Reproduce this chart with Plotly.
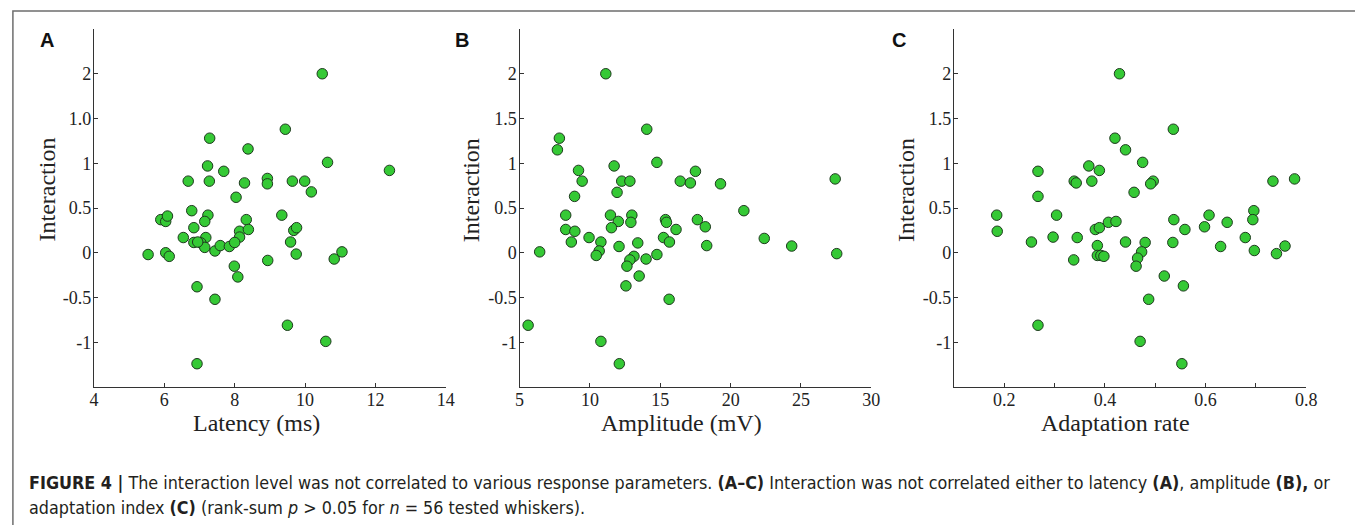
import plotly.graph_objects as go

W, H = 1355, 525

# ---------------- data ----------------
latency_ms = [10.49, 9.44, 7.29, 8.38, 10.64, 12.4, 7.23, 7.69, 6.68, 7.28, 8.28, 8.93, 8.93, 9.64,
              9.99, 10.18, 8.04, 6.78, 5.9, 6.04, 6.09, 7.24, 7.15, 8.33, 9.34, 6.84, 8.14, 8.39,
              8.14, 9.68, 9.76, 6.54, 6.84, 7.18, 7.04, 7.15, 7.44, 7.59, 7.85, 8.0, 9.59, 5.54,
              6.04, 6.14, 9.75, 8.94, 10.83, 11.05, 7.99, 8.09, 6.93, 7.44, 9.5, 10.59, 6.93, 6.95]
interaction_A = [2.0, 1.38, 1.28, 1.16, 1.01, 0.92, 0.97, 0.91, 0.80, 0.80, 0.78, 0.83, 0.77, 0.80,
                 0.80, 0.68, 0.62, 0.47, 0.37, 0.35, 0.41, 0.42, 0.35, 0.37, 0.42, 0.28, 0.24, 0.26,
                 0.175, 0.25, 0.28, 0.17, 0.115, 0.17, 0.11, 0.06, 0.02, 0.08, 0.07, 0.115, 0.12, -0.02,
                 0.0, -0.04, -0.015, -0.086, -0.07, 0.01, -0.15, -0.27, -0.38, -0.52, -0.81, -0.99, -1.24, 0.12]

amplitude_mV = [11.13, 14.04, 7.83, 7.69, 14.76, 11.72, 9.19, 17.5, 27.43, 9.45, 12.26, 12.84, 16.42,
                17.14, 19.28, 11.93, 8.91, 20.94, 8.28, 11.46, 12.98, 12.02, 12.91, 15.37, 15.44, 17.64,
                18.2, 8.28, 8.93, 11.53, 16.12, 9.94, 15.23, 22.39, 8.68, 10.78, 13.4, 15.65, 12.07,
                18.3, 24.34, 6.43, 10.66, 10.45, 27.54, 14.76, 13.13, 12.84, 13.99, 12.63, 13.5, 12.56,
                15.63, 5.61, 10.78, 12.09]
interaction_B = [2.0, 1.38, 1.28, 1.15, 1.01, 0.97, 0.92, 0.91, 0.825, 0.80, 0.80, 0.80, 0.80, 0.78,
                 0.77, 0.675, 0.63, 0.47, 0.42, 0.42, 0.42, 0.35, 0.34, 0.37, 0.34, 0.37, 0.29, 0.26,
                 0.24, 0.28, 0.26, 0.17, 0.17, 0.16, 0.12, 0.12, 0.11, 0.12, 0.07, 0.08, 0.075, 0.01,
                 0.02, -0.03, -0.01, -0.02, -0.04, -0.08, -0.07, -0.15, -0.26, -0.37, -0.52, -0.81,
                 -0.99, -1.24]

adaptation_rate = [0.429, 0.536, 0.42, 0.441, 0.475, 0.368, 0.389, 0.267, 0.777, 0.339, 0.343, 0.374,
                   0.496, 0.491, 0.734, 0.458, 0.267, 0.185, 0.186, 0.304, 0.607, 0.696, 0.694, 0.537,
                   0.407, 0.422, 0.643, 0.381, 0.389, 0.559, 0.598, 0.297, 0.345, 0.679, 0.254, 0.441,
                   0.48, 0.535, 0.385, 0.63, 0.758, 0.697, 0.473, 0.385, 0.392, 0.398, 0.741, 0.465,
                   0.338, 0.462, 0.518, 0.556, 0.487, 0.267, 0.47, 0.553]
interaction_C = [2.0, 1.38, 1.28, 1.15, 1.01, 0.97, 0.92, 0.91, 0.825, 0.80, 0.78, 0.80, 0.80, 0.77,
                 0.80, 0.675, 0.63, 0.42, 0.24, 0.42, 0.42, 0.47, 0.37, 0.37, 0.34, 0.35, 0.34, 0.26,
                 0.28, 0.26, 0.29, 0.175, 0.17, 0.17, 0.12, 0.12, 0.115, 0.115, 0.08, 0.07, 0.075,
                 0.025, 0.01, -0.03, -0.03, -0.04, -0.01, -0.06, -0.08, -0.15, -0.26, -0.37, -0.52,
                 -0.81, -0.99, -1.24]

y_tickvals = [-1, -0.5, 0, 0.5, 1, 1.5, 2]
y_ticktext_A = ["-1", "-0.5", "0", "0.5", "1", "1.0", "2"]
y_ticktext_BC = ["-1", "-0.5", "0", "0.5", "1", "1.5", "2"]

x_tickvals_A = [4, 6, 8, 10, 12, 14]
x_tickvals_B = [5, 10, 15, 20, 25, 30]
x_tickvals_C = [0.1, 0.2, 0.3, 0.4, 0.5, 0.6, 0.7, 0.8]
x_ticktext_C = ["", "0.2", "", "0.4", "", "0.6", "", "0.8"]

panel_letters = ["A", "B", "C"]
x_titles = ["Latency (ms)", "Amplitude (mV)", "Adaptation rate"]
y_title = "Interaction"

caption_line1 = ("<b>FIGURE 4 |</b> The interaction level was not correlated to various response parameters. "
                 "<b>(A–C)</b> Interaction was not correlated either to latency <b>(A)</b>, amplitude <b>(B),</b> or")
caption_line2 = ("adaptation index <b>(C)</b> (rank-sum <i>p</i> &gt; 0.05 for <i>n</i> = 56 tested whiskers).")

# ---------------- layout geometry (pixels) ----------------
panels_px = [(90, 446), (520.7, 876.7), (960.3, 1316.7)]
y_top_px, y_bot_px = 29, 387

def fx(px):
    return px / W

def fy(py):
    return 1 - py / H

SERIF = "Liberation Serif"
SANS = "Liberation Sans"
CAPTION_FONT = "DejaVu Sans Condensed"
MARKER_COLOR = "#35c935"
MARKER_LINE = "#1e3a1e"
AXIS_COLOR = "#333333"

fig = go.Figure()

xs = [latency_ms, amplitude_mV, adaptation_rate]
ys = [interaction_A, interaction_B, interaction_C]
xranges = [[4, 14], [5, 30], [0.1, 0.8]]
xtick_vals = [x_tickvals_A, x_tickvals_B, x_tickvals_C]
xtick_text = [[str(v) for v in x_tickvals_A], [str(v) for v in x_tickvals_B], x_ticktext_C]
ytick_text = [y_ticktext_A, y_ticktext_BC, y_ticktext_BC]

layout_axes = {}
for i in range(3):
    n = "" if i == 0 else str(i + 1)
    fig.add_trace(go.Scatter(
        x=xs[i], y=ys[i], mode="markers", xaxis="x" + n, yaxis="y" + n,
        marker=dict(size=10.5, color=MARKER_COLOR, line=dict(color=MARKER_LINE, width=1)),
        showlegend=False, hoverinfo="x+y", cliponaxis=False,
    ))
    x0, x1 = panels_px[i]
    layout_axes["xaxis" + n] = dict(
        domain=[fx(x0), fx(x1)], range=xranges[i], anchor="y" + n,
        showline=True, linecolor=AXIS_COLOR, linewidth=1.3, mirror=False,
        showgrid=False, zeroline=False,
        ticks="inside", ticklen=4, tickwidth=1, tickcolor=AXIS_COLOR,
        tickmode="array", tickvals=xtick_vals[i], ticktext=xtick_text[i],
        tickfont=dict(family=SERIF, size=18, color="#222222"),
        ticklabelstandoff=-4,
    )
    layout_axes["yaxis" + n] = dict(
        domain=[fy(y_bot_px), fy(y_top_px)], range=[-1.5, 2.5], anchor="x" + n,
        showline=True, linecolor=AXIS_COLOR, linewidth=1.3, mirror=False,
        showgrid=False, zeroline=False,
        ticks="inside", ticklen=4, tickwidth=1, tickcolor=AXIS_COLOR,
        tickmode="array", tickvals=y_tickvals, ticktext=ytick_text[i],
        tickfont=dict(family=SERIF, size=18, color="#222222"),
        ticklabelstandoff=-2,
    )

annotations = []
letter_pos = [42, 462, 905]
ytitle_pos = [42, 471.7, 911.7]
xtitle_pos = [255, 685, 1124]
for i in range(3):
    annotations.append(dict(
        text="<b>%s</b>" % panel_letters[i], x=fx(letter_pos[i]), y=fy(40), xref="paper", yref="paper",
        showarrow=False, xanchor="center", yanchor="middle",
        font=dict(family=SANS, size=20, color="#111111")))
    annotations.append(dict(
        text=y_title, x=fx(ytitle_pos[i]), y=fy(190), xref="paper", yref="paper", textangle=-90,
        showarrow=False, xanchor="center", yanchor="middle",
        font=dict(family=SERIF, size=24, color="#222222")))
    annotations.append(dict(
        text=x_titles[i], x=fx(xtitle_pos[i]), y=fy(423), xref="paper", yref="paper",
        showarrow=False, xanchor="center", yanchor="middle",
        font=dict(family=SERIF, size=24, color="#222222")))

annotations.append(dict(
    text=caption_line1, x=fx(22), y=fy(482), xref="paper", yref="paper", showarrow=False,
    xanchor="left", yanchor="middle", align="left",
    font=dict(family=CAPTION_FONT, size=17.8, color="#231f20")))
annotations.append(dict(
    text=caption_line2, x=fx(22), y=fy(507), xref="paper", yref="paper", showarrow=False,
    xanchor="left", yanchor="middle", align="left",
    font=dict(family=CAPTION_FONT, size=17.8, color="#231f20")))

shapes = [dict(type="rect", xref="paper", yref="paper",
               x0=fx(8), x1=fx(1370), y0=fy(560), y1=fy(11),
               line=dict(color="#6e6e6e", width=1.5), fillcolor="rgba(0,0,0,0)", layer="below")]

fig.update_layout(
    width=W, height=H, margin=dict(l=0, r=0, t=0, b=0),
    paper_bgcolor="white", plot_bgcolor="white",
    font=dict(family=SERIF, color="#222222"),
    annotations=annotations, shapes=shapes, showlegend=False,
    **layout_axes,
)

fig.write_html("out.html", config={"displayModeBar": False},
               post_script="document.body.style.margin='0';document.body.style.overflow='hidden';")
